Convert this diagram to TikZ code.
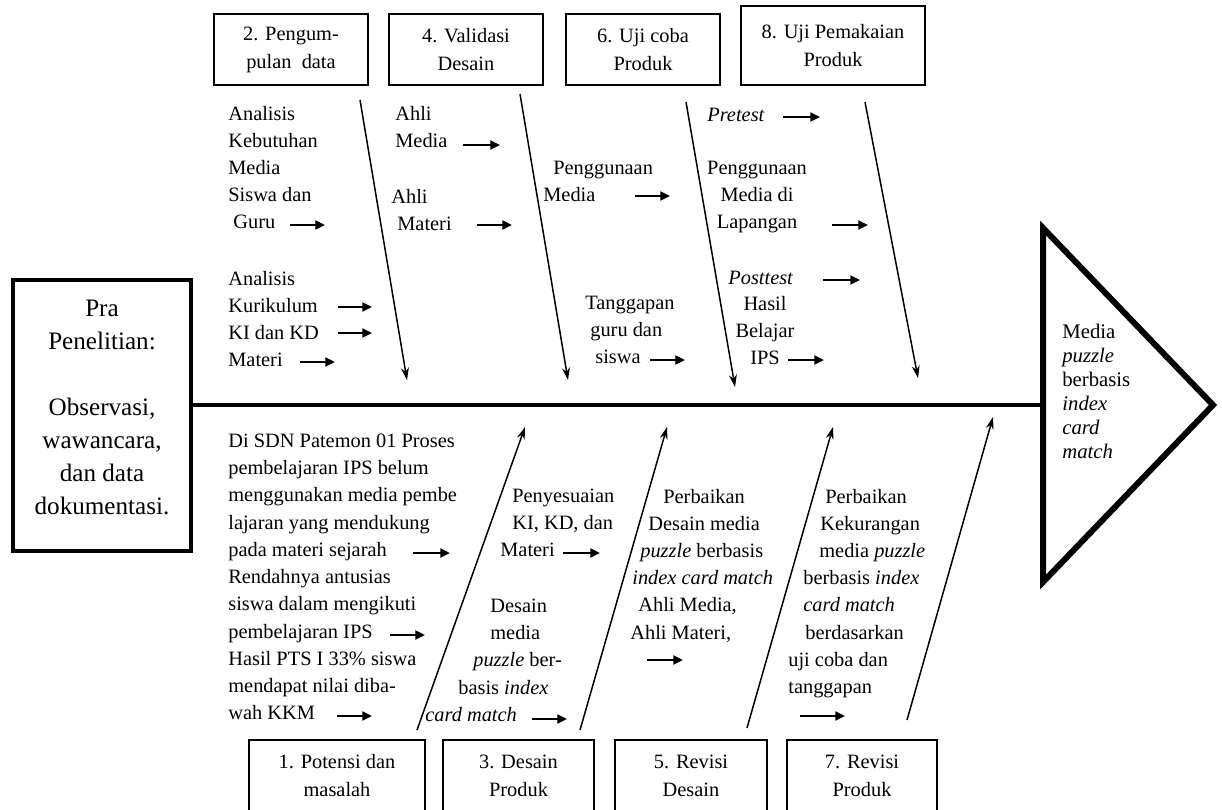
\documentclass[tikz,border=0pt]{standalone}
\usepackage{fontspec}
\setmainfont{Liberation Serif}
\usetikzlibrary{arrows.meta,positioning}

\newcommand\fmain{\fontsize{11.6}{15.5}\selectfont}
\newcommand\fstep{\fontsize{11.6}{15.9}\selectfont}
\newcommand\fpra{\fontsize{14.3}{18.7}\selectfont}
\newcommand\fgoal{\fontsize{11.8}{13.6}\selectfont}

\begin{document}
\begin{tikzpicture}[x=0.02cm, y=-0.02cm,
  stepbox/.style={draw, line width=0.85pt, inner sep=0pt, minimum height=1.42cm, align=center, font=\fstep},
  note/.style={inner sep=0pt, align=left, anchor=north west, font=\fmain},
  notec/.style={inner sep=0pt, align=center, anchor=north, font=\fmain},
  bone/.style={-{Stealth[length=7pt,width=4.5pt]}, line width=0.85pt},
  harr/.style={-{Triangle[length=5.5pt,width=5pt]}, line width=1.4pt}
]
  \fill[white] (0,0) rectangle (1222,809);
  \useasboundingbox (0,0) rectangle (1222,809);

  % Pra penelitian (tail)
  \node[draw, line width=2.3pt, minimum width=3.56cm, minimum height=5.42cm] (pra) at (102,415.5) {};
  \node[font=\fpra, align=center, inner sep=0pt] (pratxt) at (102,407.5)
    {Pra\\Penelitian:\\\mbox{}\\Observasi,\\wawancara,\\dan data\\dokumentasi.};

  % Spine and head
  \coordinate (spL) at (193,405);
  \coordinate (t1) at (1043,228);
  \coordinate (t2) at (1213,405);
  \coordinate (t3) at (1043,582);
  \draw[line width=2.8pt] (spL) -- (t1 |- spL);
  \draw[line width=3.4pt, line join=miter] (t1) -- (t2) -- (t3) -- cycle;
  \node[font=\fgoal, align=left, anchor=north west, inner sep=0pt] (goal) at (1062,324)
    {Media\\\textit{puzzle}\\berbasis\\\textit{index}\\\textit{card}\\\textit{match}};

  % Top boxes
  \node[stepbox, minimum width=3.08cm] (b2) at (291,49.5) {2. Pengum-\\pulan\ \ data};
  \node[stepbox, minimum width=3.08cm] (b4) at (466,49.5) {4. Validasi\\Desain};
  \node[stepbox, minimum width=3.08cm] (b6) at (643,49.5) {6. Uji coba\\Produk};
  \node[stepbox, minimum width=3.68cm, minimum height=1.58cm] (b8) at (833,45.5) {8. Uji Pemakaian\\Produk};

  % Bottom boxes
  \node[stepbox, minimum width=3.52cm] (b1) at (337,775.5) {1. Potensi dan\\masalah};
  \node[stepbox, minimum width=3.02cm] (b3) at (518.5,775.5) {3. Desain\\Produk};
  \node[stepbox, minimum width=3.04cm] (b5) at (691,775.5) {5. Revisi\\Desain};
  \node[stepbox, minimum width=3.00cm] (b7) at (862,775.5) {7. Revisi\\Produk};

  % Bones
  \foreach \n/\xa/\ya/\xb/\yb in {1/360/100/407/380, 2/520/94/568/380, 3/686/102/735/387, 4/865/102/918/378,
      5/417/730/525/427, 6/580/730/667/427, 7/747/728/833/427, 8/907/720/993/417} {
    \coordinate (bs\n) at (\xa,\ya);
    \coordinate (be\n) at (\xb,\yb);
    \draw[bone] (bs\n) -- (be\n);
  }

  % Top causes
  \node[note] (kebutuhan) at (228,105.5) {Analisis\\Kebutuhan\\Media\\Siswa dan\\\hspace*{0.1cm}Guru};
  \node[note] (kurikulum) at (228,270.5) {Analisis\\Kurikulum\\KI dan KD\\Materi};
  \node[note] (ahlimedia) at (395,105.5) {Ahli\\Media};
  \node[note] (ahlimateri) at (391,188.5) {Ahli\\\hspace*{0.12cm}Materi};
  \node[note] (penggunaan) at (543,160.5) {\hspace*{0.2cm}Penggunaan\\Media};
  \node[note] (tanggapan) at (585,295.5) {Tanggapan\\\hspace*{0.1cm}guru dan\\\hspace*{0.2cm}siswa};
  \node[note] (pretest) at (707,107.5) {\textit{Pretest}};
  \node[notec] (lapangan) at (757,160.5) {Penggunaan\\Media di\\Lapangan};
  \node[note] (posttest) at (728,270.5) {\textit{Posttest}};
  \node[notec] (hasil) at (765,295.5) {Hasil\\Belajar\\IPS};

  % Bottom causes
  \node[note] (potensi) at (228,433.5) {Di SDN Patemon 01 Proses\\pembelajaran IPS belum\\menggunakan media pembe\\lajaran yang mendukung\\pada materi sejarah\\Rendahnya antusias\\siswa dalam mengikuti\\pembelajaran IPS\\Hasil PTS I 33\% siswa\\mendapat nilai diba-\\wah KKM};
  \node[note] (penyesuaian) at (500,488.5) {\hspace*{0.24cm}Penyesuaian\\\hspace*{0.24cm}KI, KD, dan\\Materi};
  \node[note] (desain) at (425,598.5) {\hspace*{1.3cm}Desain\\\hspace*{1.3cm}media\\\hspace*{0.96cm}\textit{puzzle} ber-\\\hspace*{0.66cm}basis \textit{index}\\\textit{card match}};
  \node[note] (perbaikan) at (630,488.5) {\hspace*{0.66cm}Perbaikan\\\hspace*{0.36cm}Desain media\\\hspace*{0.2cm}\textit{puzzle} berbasis\\\hspace*{0.04cm}\textit{index card match}\\\hspace*{0.16cm}Ahli Media,\\Ahli Materi,};
  \node[note] (kekurangan) at (788,488.5) {\hspace*{0.74cm}Perbaikan\\\hspace*{0.64cm}Kekurangan\\\hspace*{0.62cm}media \textit{puzzle}\\\hspace*{0.3cm}berbasis \textit{index}\\\hspace*{0.3cm}\textit{card match}\\\hspace*{0.34cm}berdasarkan\\uji coba dan\\tanggapan};

  % Small arrows
  \foreach \n/\xa/\xb/\yy in {1/290/325/225, 2/338/372/307, 3/338/372/333, 4/300/335/362,
      5/463/500/145, 6/477/512/225, 7/635/670/196, 8/650/685/360,
      9/783/820/117, 10/832/868/225, 11/823/860/280, 12/788/824/360,
      13/413/450/553, 14/390/425/635, 15/337/372/716, 16/563/600/553,
      17/532/567/719, 18/647/683/660, 19/800/845/716} {
    \coordinate (ha\n) at (\xa,\yy);
    \coordinate (hb\n) at (\xb,\yy);
    \draw[harr] (ha\n) -- (hb\n);
  }
\end{tikzpicture}
\end{document}
